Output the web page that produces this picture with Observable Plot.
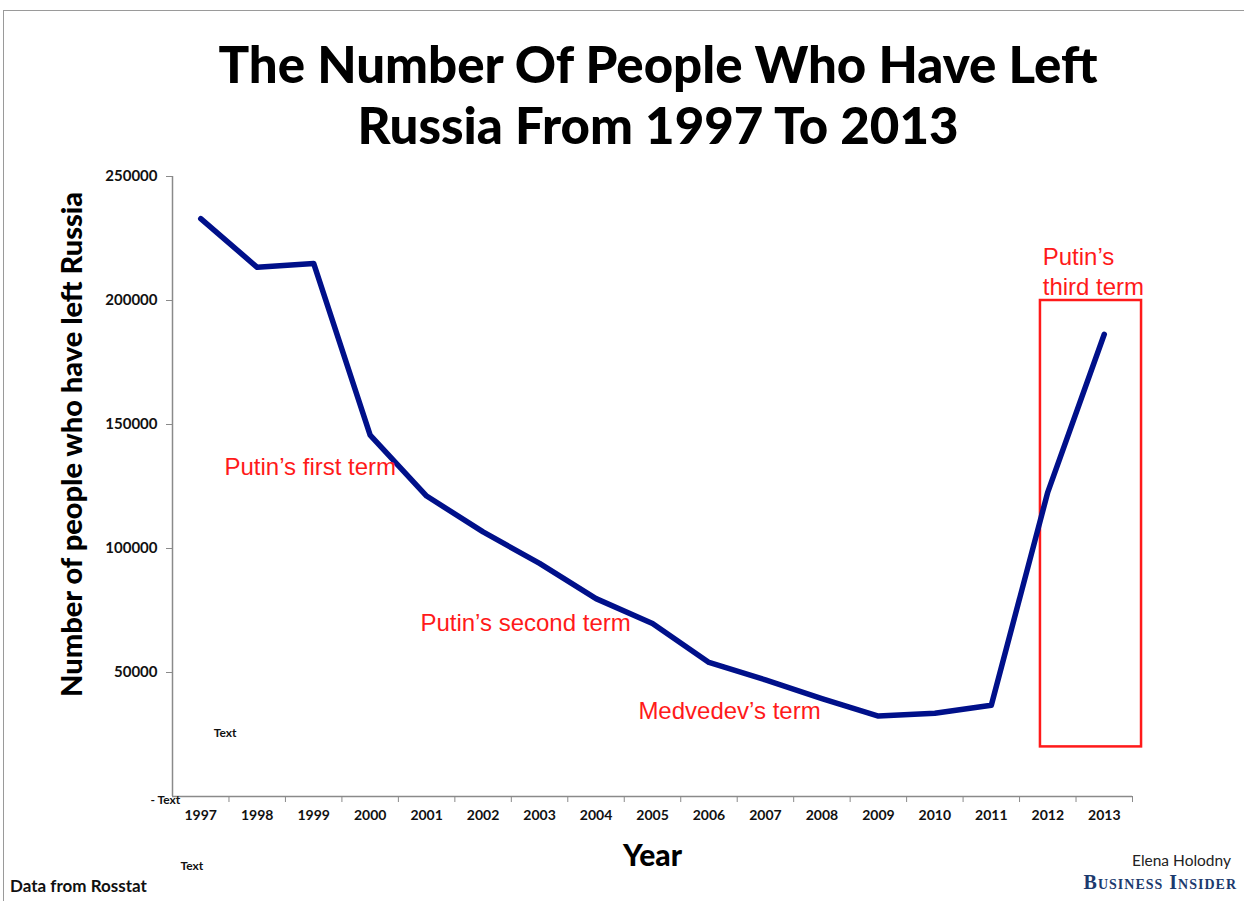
<!DOCTYPE html>
<html>
<head>
<meta charset="utf-8">
<script src="https://cdn.jsdelivr.net/npm/d3@7"></script>
<script src="https://cdn.jsdelivr.net/npm/@observablehq/plot@0.6"></script>
<style>
  html, body { margin: 0; padding: 0; background: #fff; }
  #page { position: relative; width: 1244px; height: 901px; overflow: hidden; background: #fff; }
  #border { position: absolute; left: 3px; top: 10px; right: -5px; bottom: -5px; border-top: 1.5px solid #9a9a9a; border-left: 1.5px solid #9a9a9a; }
  #title { position: absolute; left: 72px; width: 1172px; top: 33px; text-align: center;
           font-family: Lato, "Open Sans", sans-serif; font-weight: 900; font-size: 51px; line-height: 61px; color: #000; }
  #chart { position: absolute; left: 0; top: 165px; }
  #source { position: absolute; left: 10px; top: 875px; font-family: Lato, sans-serif; font-weight: 700; font-size: 17px; color: #111; }
  #author { position: absolute; right: 13px; top: 851px; font-family: Lato, sans-serif; font-size: 15.5px; color: #222; }
  #brand { position: absolute; right: 7px; top: 871px; font-family: "Liberation Serif", serif; font-weight: 700; font-size: 20px; font-variant: small-caps; letter-spacing: 1px; color: #1c3a6e; }
</style>
</head>
<body>
<div id="page">
  <div id="border"></div>
  <div id="title">The Number Of People Who Have Left<br>Russia From 1997 To 2013</div>
  <div id="chart"></div>
  <div id="source">Data from Rosstat</div>
  <div id="author">Elena Holodny</div>
  <div id="brand">Business Insider</div>
</div>
<script>
// ---- data ----
const years = [1997, 1998, 1999, 2000, 2001, 2002, 2003, 2004, 2005, 2006, 2007, 2008, 2009, 2010, 2011, 2012, 2013];
const emigrants = [232987, 213377, 214963, 145720, 121166, 106685, 94018, 79795, 69798, 54061, 47013, 39508, 32458, 33578, 36774, 122751, 186382];
const yTicks = [50000, 100000, 150000, 200000, 250000];
const yLabel = "Number of people who have left Russia";
const xLabel = "Year";
const termLabels = ["Putin’s first term", "Putin’s second term", "Medvedev’s term", "Putin’s", "third term"];
const termX = [1997.42, 2000.89, 2004.75, 2011.91, 2011.91];
const termY = [132700, 69800, 34300, 217300, 205200];
const thirdTermBox = {x1: 2011.87, x2: 2013.66, y1: 20000, y2: 200000};
const placeholderLabels = ["Text", "- Text", "Text"];
const placeholderX = [1997.23, 1996.11, 1996.64];
const placeholderY = [25400, -1600, -28200];

// ---- derived tables ----
const series = years.map((year, i) => ({year, value: emigrants[i]}));
const boundaries = years.map(y => y + 0.5);
const terms = termLabels.map((label, i) => ({label, x: termX[i], y: termY[i]}));
const placeholders = placeholderLabels.map((label, i) => ({label, x: placeholderX[i], y: placeholderY[i]}));
const xDomain = [years[0] - 0.5, years[years.length - 1] + 0.5];

const axisColor = "#8a8a8a";
const font = "Lato, 'Open Sans', sans-serif";

const chart = Plot.plot({
  width: 1244,
  height: 736,
  marginLeft: 172,
  marginRight: 112,
  marginTop: 11,
  marginBottom: 105,
  style: {fontFamily: font, background: "transparent", overflow: "visible"},
  x: {domain: xDomain},
  y: {domain: [0, 250000]},
  marks: [
    Plot.ruleX([xDomain[0]], {y1: 0, y2: 250000, stroke: axisColor, strokeWidth: 1.5}),
    Plot.ruleY([0], {x1: xDomain[0], x2: xDomain[1], stroke: axisColor, strokeWidth: 1.5}),
    Plot.axisY({ticks: yTicks, tickSize: 6, tickPadding: 9, tickFormat: d3.format("d"), label: null,
                fontSize: 15, fontWeight: 700, stroke: axisColor, color: "#111"}),
    Plot.axisX({ticks: boundaries, tickSize: 6, tickFormat: () => "", label: null, stroke: axisColor}),
    Plot.axisX({ticks: years, tickSize: 0, tickPadding: 14, tickFormat: d3.format("d"), label: null,
                fontSize: 14, fontWeight: 700, color: "#111"}),
    Plot.rect([thirdTermBox], {x1: "x1", x2: "x2", y1: "y1", y2: "y2", fill: "none", stroke: "#ff1a1a", strokeWidth: 2.5}),
    Plot.line(series, {x: "year", y: "value", stroke: "#00108a", strokeWidth: 5.5, strokeLinejoin: "round", strokeLinecap: "round"}),
    Plot.text(terms, {x: "x", y: "y", text: "label", textAnchor: "start", lineAnchor: "middle",
                      fill: "#ff1a1a", fontSize: 24, fontFamily: "'Liberation Sans', Arial, sans-serif"}),
    Plot.text(placeholders, {x: "x", y: "y", text: "label", textAnchor: "start", lineAnchor: "middle",
                             fill: "#111", fontSize: 12, fontWeight: 700}),
    Plot.text([yLabel], {x: xDomain[0], y: 142000, dx: -100, rotate: -90, textAnchor: "middle", lineAnchor: "middle",
                         fontSize: 29, fontWeight: 900, fill: "#000"}),
    Plot.text([xLabel], {x: (xDomain[0] + xDomain[1]) / 2, y: 0, dy: 60, textAnchor: "middle", lineAnchor: "middle",
                         fontSize: 30, fontWeight: 900, fill: "#000"})
  ]
});
document.getElementById("chart").appendChild(chart);
</script>
</body>
</html>
